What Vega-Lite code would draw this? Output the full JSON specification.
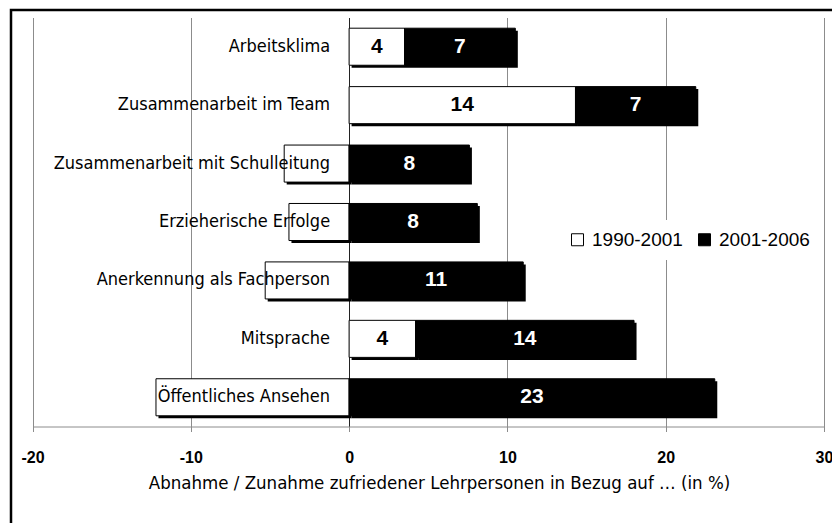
{
  "$schema": "https://vega.github.io/schema/vega-lite/v6.json",
  "width": 821,
  "height": 513,
  "autosize": "none",
  "padding": {"left": 11, "top": 10, "right": 0, "bottom": 0},
  "background": "white",
  "config": {
    "view": {"stroke": "black", "strokeWidth": 2.5, "strokeDash": [821, 1334, 513]},
    "font": "Liberation Sans"
  },
  "data": {
    "values": [
      {"cat": "Arbeitsklima", "series": "1990-2001", "value": 3.5, "label": "4"},
      {"cat": "Arbeitsklima", "series": "2001-2006", "value": 7.0, "label": "7"},
      {"cat": "Zusammenarbeit im Team", "series": "1990-2001", "value": 14.3, "label": "14"},
      {"cat": "Zusammenarbeit im Team", "series": "2001-2006", "value": 7.6, "label": "7"},
      {"cat": "Zusammenarbeit mit Schulleitung", "series": "1990-2001", "value": -4.1, "label": ""},
      {"cat": "Zusammenarbeit mit Schulleitung", "series": "2001-2006", "value": 7.6, "label": "8"},
      {"cat": "Erzieherische Erfolge", "series": "1990-2001", "value": -3.8, "label": ""},
      {"cat": "Erzieherische Erfolge", "series": "2001-2006", "value": 8.1, "label": "8"},
      {"cat": "Anerkennung als Fachperson", "series": "1990-2001", "value": -5.3, "label": ""},
      {"cat": "Anerkennung als Fachperson", "series": "2001-2006", "value": 11.0, "label": "11"},
      {"cat": "Mitsprache", "series": "1990-2001", "value": 4.2, "label": "4"},
      {"cat": "Mitsprache", "series": "2001-2006", "value": 13.8, "label": "14"},
      {"cat": "Öffentliches Ansehen", "series": "1990-2001", "value": -12.2, "label": ""},
      {"cat": "Öffentliches Ansehen", "series": "2001-2006", "value": 23.1, "label": "23"}
    ]
  },
  "encoding": {
    "y": {
      "field": "cat",
      "type": "nominal",
      "sort": null,
      "axis": null,
      "scale": {"range": [7.5, 416.5], "paddingInner": 0.366, "paddingOuter": 0.183}
    }
  },
  "resolve": {"axis": {"x": "independent"}},
  "layer": [
    {
      "mark": {"type": "bar", "color": "black", "xOffset": 2.5, "x2Offset": 2.5, "yOffset": 2.5, "y2Offset": 2.5},
      "encoding": {
        "x": {
          "field": "value",
          "type": "quantitative",
          "stack": "zero",
          "scale": {"domain": [-20, 30], "range": [21.5, 813], "nice": false, "zero": false},
          "axis": {
            "orient": "top",
            "values": [-20, -10, 0, 10, 20, 30],
            "grid": true,
            "gridColor": {"condition": {"test": "datum.value === 0", "value": "#222222"}, "value": "#8c8c8c"},
            "gridWidth": 1,
            "domain": false,
            "ticks": false,
            "labels": false,
            "title": null,
            "offset": 0
          }
        },
        "detail": {"field": "series"},
        "order": {"field": "series", "sort": "ascending"}
      }
    },
    {
      "mark": {"type": "bar", "stroke": "black", "strokeWidth": 1},
      "encoding": {
        "x": {
          "field": "value",
          "type": "quantitative",
          "stack": "zero",
          "axis": {
            "orient": "bottom",
            "values": [-20, -10, 0, 10, 20, 30],
            "grid": false,
            "domainColor": "#8c8c8c",
            "tickColor": "#8c8c8c",
            "tickSize": 5,
            "offset": -96.5,
            "labelFont": "Liberation Sans",
            "labelFontWeight": "bold",
            "labelFontSize": 16,
            "labelColor": "black",
            "labelPadding": 18,
            "labelFlush": false,
            "labelOverlap": false,
            "labelExpr": "replace(datum.label, '\u2212', '-')",
            "title": "Abnahme / Zunahme zufriedener Lehrpersonen in Bezug auf … (in %)",
            "titleFont": "DejaVu Sans Condensed, Roboto Condensed, Roboto",
            "titleFontSize": 18.5,
            "titleFontWeight": "normal",
            "titleColor": "black",
            "titlePadding": 8,
            "titleX": 428
          }
        },
        "order": {"field": "series", "sort": "ascending"},
        "color": {
          "field": "series",
          "type": "nominal",
          "scale": {"domain": ["1990-2001", "2001-2006"], "range": ["white", "black"]},
          "legend": {
            "title": null,
            "orient": "none",
            "legendX": 547,
            "legendY": 210,
            "direction": "horizontal",
            "symbolType": "square",
            "symbolSize": 144,
            "symbolStrokeColor": "black",
            "symbolStrokeWidth": 1,
            "labelFont": "Liberation Sans",
            "labelFontSize": 19,
            "labelColor": "black",
            "labelOffset": 5,
            "columnPadding": 12,
            "padding": 10,
            "fillColor": "white"
          }
        }
      }
    },
    {
      "transform": [{"filter": "datum.series === '2001-2006'"}],
      "mark": {"type": "text", "align": "right", "baseline": "middle", "dx": -19, "font": "DejaVu Sans Condensed, Roboto Condensed, Roboto", "fontSize": 18, "color": "black"},
      "encoding": {
        "x": {"datum": 0, "type": "quantitative", "axis": null},
        "text": {"field": "cat"}
      }
    },
    {
      "mark": {"type": "text", "font": "Liberation Sans", "fontWeight": "bold", "fontSize": 21, "baseline": "middle", "align": "center"},
      "encoding": {
        "x": {"field": "value", "type": "quantitative", "stack": "zero", "bandPosition": 0.5, "axis": null},
        "detail": {"field": "series"},
        "order": {"field": "series", "sort": "ascending"},
        "text": {"field": "label"},
        "color": {"condition": {"test": "datum.series === '2001-2006'", "value": "white"}, "value": "black"}
      }
    }
  ]
}
